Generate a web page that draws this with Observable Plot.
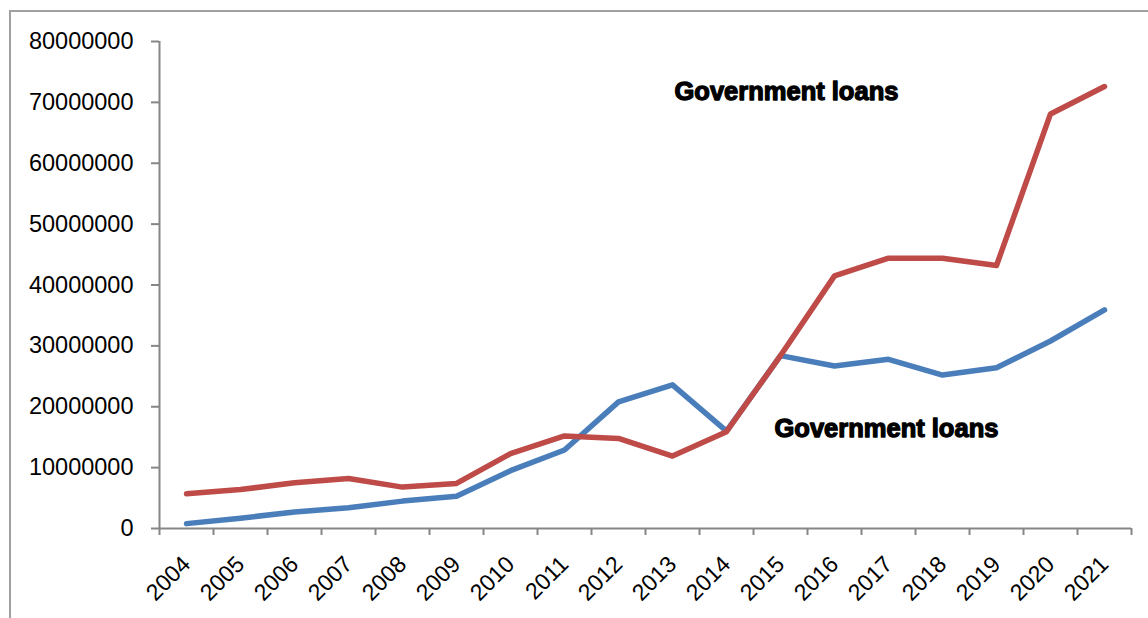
<!DOCTYPE html>
<html>
<head>
<meta charset="utf-8">
<script src="https://cdn.jsdelivr.net/npm/d3@7"></script>
<script src="https://cdn.jsdelivr.net/npm/@observablehq/plot@0.6"></script>
<style>
  html, body { margin: 0; padding: 0; background: #fff; }
  #wrap { position: relative; width: 1148px; height: 618px; overflow: hidden; }
  #frame { position: absolute; left: 9px; top: 10px; width: 1200px; height: 700px;
           border-left: 2px solid #a0a0a0; border-top: 2px solid #a0a0a0; box-sizing: border-box; }
  #chart { position: absolute; left: 0; top: 0; }
</style>
</head>
<body>
<div id="wrap"><div id="frame"></div><div id="chart"></div></div>
<script>
const years = [2004, 2005, 2006, 2007, 2008, 2009, 2010, 2011, 2012, 2013, 2014, 2015, 2016, 2017, 2018, 2019, 2020, 2021];
const blueSeries = [800000, 1700000, 2700000, 3400000, 4500000, 5300000, 9500000, 12900000, 20800000, 23600000, 16000000, 28400000, 26700000, 27800000, 25200000, 26400000, 30800000, 35900000];
const redSeries = [5700000, 6400000, 7500000, 8200000, 6800000, 7400000, 12300000, 15200000, 14800000, 11900000, 15900000, 28400000, 41500000, 44400000, 44400000, 43200000, 68100000, 72600000];
const yTicks = [0, 10000000, 20000000, 30000000, 40000000, 50000000, 60000000, 70000000, 80000000];
const labelText = "Government loans";

const blueData = years.map((y, i) => ({year: y, value: blueSeries[i]}));
const redData = years.map((y, i) => ({year: y, value: redSeries[i]}));
const boundaries = years.map(y => y - 0.5).concat([years[years.length - 1] + 0.5]);
const noteTop = [{year: 2013, value: 71800000, text: labelText}];
const noteBottom = [{year: 2015, value: 16300000, text: labelText}];

const axisColor = "#868686";
const noteStyle = {x: "year", y: "value", text: "text", textAnchor: "start", fontSize: 25.5, fontWeight: "bold", fill: "#000", stroke: "#000", strokeWidth: 1.3};

const chart = Plot.plot({
  width: 1148,
  height: 618,
  marginLeft: 159,
  marginRight: 17,
  marginTop: 41,
  marginBottom: 90,
  style: {fontFamily: "'Liberation Sans', Arial, sans-serif", background: "transparent", color: "#000"},
  x: {type: "linear", domain: [boundaries[0], boundaries[boundaries.length - 1]]},
  y: {type: "linear", domain: [0, 80000000]},
  marks: [
    Plot.ruleX(boundaries, {x: d => d, y1: 0, y2: 0, insetBottom: -7, stroke: axisColor, strokeWidth: 2}),
    Plot.ruleY([0], {stroke: axisColor, strokeWidth: 2}),
    Plot.ruleX([boundaries[0]], {y1: 0, y2: 80000000, stroke: axisColor, strokeWidth: 2}),
    Plot.axisY({ticks: yTicks, tickFormat: d3.format("d"), tickSize: 8, tickPadding: 18, stroke: axisColor, strokeWidth: 2, fontSize: 23.5, fill: "#000", label: null}),
    Plot.axisX({ticks: years, tickFormat: d => String(d), tickSize: 0, tickPadding: 32, tickRotate: -45, fontSize: 23, fill: "#000", label: null}),
    Plot.lineY(blueData, {x: "year", y: "value", stroke: "#4A7EBB", strokeWidth: 5.5}),
    Plot.lineY(redData, {x: "year", y: "value", stroke: "#BE4B48", strokeWidth: 5.5}),
    Plot.text(noteTop, {...noteStyle, dx: 2}),
    Plot.text(noteBottom, {...noteStyle, dx: -6})
  ]
});
document.getElementById("chart").appendChild(chart);
</script>
</body>
</html>
